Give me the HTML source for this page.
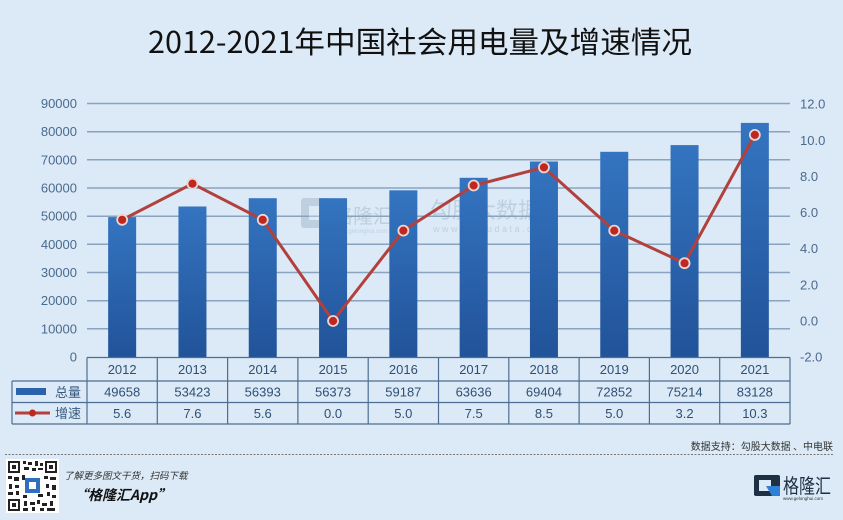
<!DOCTYPE html>
<html><head><meta charset="utf-8">
<style>
html,body{margin:0;padding:0;background:#dbeaf6;}
svg{display:block;}
</style></head>
<body>
<svg width="843" height="520" viewBox="0 0 843 520" xmlns="http://www.w3.org/2000/svg" font-family="'Liberation Sans','Noto Sans CJK SC',sans-serif">
<defs>
<linearGradient id="bar" x1="0" y1="0" x2="0" y2="1">
<stop offset="0" stop-color="#3474c0"/>
<stop offset="1" stop-color="#215399"/>
</linearGradient>
</defs>
<rect width="843" height="520" fill="#dbeaf6"/>
<!-- Title -->
<text x="148" y="53" font-family="'Noto Sans CJK SC',sans-serif" font-size="30" fill="#111" textLength="544" lengthAdjust="spacingAndGlyphs">2012-2021年中国社会用电量及增速情况</text>

<!-- gridlines -->
<g stroke="#8aa3bf" stroke-width="1.5">
<line x1="87" x2="790" y1="328.8" y2="328.8"/>
<line x1="87" x2="790" y1="300.7" y2="300.7"/>
<line x1="87" x2="790" y1="272.5" y2="272.5"/>
<line x1="87" x2="790" y1="244.3" y2="244.3"/>
<line x1="87" x2="790" y1="216.2" y2="216.2"/>
<line x1="87" x2="790" y1="188" y2="188"/>
<line x1="87" x2="790" y1="159.8" y2="159.8"/>
<line x1="87" x2="790" y1="131.7" y2="131.7"/>
<line x1="87" x2="790" y1="103.5" y2="103.5"/>
</g>

<!-- left axis labels -->
<g font-size="13" fill="#4a6a8e" text-anchor="end">
<text x="77" y="361.5">0</text>
<text x="77" y="333.3">10000</text>
<text x="77" y="305.2">20000</text>
<text x="77" y="277">30000</text>
<text x="77" y="248.8">40000</text>
<text x="77" y="220.7">50000</text>
<text x="77" y="192.5">60000</text>
<text x="77" y="164.3">70000</text>
<text x="77" y="136.2">80000</text>
<text x="77" y="108">90000</text>
</g>
<!-- right axis labels -->
<g font-size="13" fill="#4a6a8e">
<text x="800" y="361.5">-2.0</text>
<text x="800" y="325.4">0.0</text>
<text x="800" y="289.3">2.0</text>
<text x="800" y="253.2">4.0</text>
<text x="800" y="217">6.0</text>
<text x="800" y="180.9">8.0</text>
<text x="800" y="144.8">10.0</text>
<text x="800" y="108.6">12.0</text>
</g>

<!-- watermark -->
<g opacity="0.35">
<rect x="301" y="198" width="30" height="30" rx="3" fill="#8aa0b8"/>
<rect x="309" y="206" width="14" height="14" fill="#dbeaf6"/>
<text x="333" y="223" font-family="'Noto Sans CJK SC',sans-serif" font-size="20" fill="#8aa0b8">格隆汇</text>
<text x="334" y="233" font-size="6" fill="#8aa0b8">www.gelonghui.com</text>
<text x="430" y="218" font-family="'Noto Sans CJK SC',sans-serif" font-size="22" fill="#8aa0b8">勾股大数据</text>
<text x="433" y="232" font-size="9" fill="#8aa0b8" letter-spacing="2.5">www.gogudata.com</text>
</g>

<!-- bars -->
<g fill="url(#bar)">
<rect x="108.15" y="217.1" width="28" height="139.9"/>
<rect x="178.45" y="206.5" width="28" height="150.5"/>
<rect x="248.75" y="198.2" width="28" height="158.8"/>
<rect x="319.05" y="198.2" width="28" height="158.8"/>
<rect x="389.35" y="190.3" width="28" height="166.7"/>
<rect x="459.65" y="177.8" width="28" height="179.2"/>
<rect x="529.95" y="161.5" width="28" height="195.5"/>
<rect x="600.25" y="151.8" width="28" height="205.2"/>
<rect x="670.55" y="145.1" width="28" height="211.9"/>
<rect x="740.85" y="122.9" width="28" height="234.1"/>
</g>

<!-- line -->
<polyline fill="none" stroke="#b2403c" stroke-width="3" stroke-linejoin="round"
points="122.15,219.8 192.45,183.7 262.75,219.8 333.05,321 403.35,230.6 473.65,185.5 543.95,167.4 614.25,230.6 684.55,263.2 754.85,134.9"/>
<g fill="#c0281f" stroke="#ecd6d4" stroke-width="1.8">
<circle cx="122.15" cy="219.8" r="5"/>
<circle cx="192.45" cy="183.7" r="5"/>
<circle cx="262.75" cy="219.8" r="5"/>
<circle cx="333.05" cy="321" r="5"/>
<circle cx="403.35" cy="230.6" r="5"/>
<circle cx="473.65" cy="185.5" r="5"/>
<circle cx="543.95" cy="167.4" r="5"/>
<circle cx="614.25" cy="230.6" r="5"/>
<circle cx="684.55" cy="263.2" r="5"/>
<circle cx="754.85" cy="134.9" r="5"/>
</g>

<!-- table -->
<g stroke="#4d6d92" stroke-width="1.2" fill="none">
<line x1="87" y1="357.5" x2="790" y2="357.5"/>
<line x1="12" y1="381" x2="790" y2="381"/>
<line x1="12" y1="402.5" x2="790" y2="402.5"/>
<line x1="12" y1="424" x2="790" y2="424"/>
<line x1="12" y1="381" x2="12" y2="424"/>
<line x1="87" y1="357.5" x2="87" y2="424"/>
<line x1="157.3" y1="357.5" x2="157.3" y2="424"/>
<line x1="227.6" y1="357.5" x2="227.6" y2="424"/>
<line x1="297.9" y1="357.5" x2="297.9" y2="424"/>
<line x1="368.2" y1="357.5" x2="368.2" y2="424"/>
<line x1="438.5" y1="357.5" x2="438.5" y2="424"/>
<line x1="508.8" y1="357.5" x2="508.8" y2="424"/>
<line x1="579.1" y1="357.5" x2="579.1" y2="424"/>
<line x1="649.4" y1="357.5" x2="649.4" y2="424"/>
<line x1="719.7" y1="357.5" x2="719.7" y2="424"/>
<line x1="790" y1="357.5" x2="790" y2="424"/>
</g>
<!-- legend cells -->
<rect x="16" y="388" width="30" height="7" fill="#2a62ad"/>
<text x="55" y="397" font-family="'Noto Sans CJK SC',sans-serif" font-size="13" fill="#3a5a80">总量</text>
<line x1="15" y1="413" x2="50" y2="413" stroke="#b2403c" stroke-width="3"/>
<circle cx="32.5" cy="413" r="3.5" fill="#c0281f"/>
<text x="55" y="418" font-family="'Noto Sans CJK SC',sans-serif" font-size="13" fill="#3a5a80">增速</text>

<g font-size="13" fill="#2f4f75" text-anchor="middle">
<text x="122.15" y="374">2012</text><text x="192.45" y="374">2013</text><text x="262.75" y="374">2014</text><text x="333.05" y="374">2015</text><text x="403.35" y="374">2016</text><text x="473.65" y="374">2017</text><text x="543.95" y="374">2018</text><text x="614.25" y="374">2019</text><text x="684.55" y="374">2020</text><text x="754.85" y="374">2021</text>
<text x="122.15" y="396.5">49658</text><text x="192.45" y="396.5">53423</text><text x="262.75" y="396.5">56393</text><text x="333.05" y="396.5">56373</text><text x="403.35" y="396.5">59187</text><text x="473.65" y="396.5">63636</text><text x="543.95" y="396.5">69404</text><text x="614.25" y="396.5">72852</text><text x="684.55" y="396.5">75214</text><text x="754.85" y="396.5">83128</text>
<text x="122.15" y="418">5.6</text><text x="192.45" y="418">7.6</text><text x="262.75" y="418">5.6</text><text x="333.05" y="418">0.0</text><text x="403.35" y="418">5.0</text><text x="473.65" y="418">7.5</text><text x="543.95" y="418">8.5</text><text x="614.25" y="418">5.0</text><text x="684.55" y="418">3.2</text><text x="754.85" y="418">10.3</text>
</g>

<!-- source -->
<text x="833" y="450" text-anchor="end" font-family="'Noto Sans CJK SC',sans-serif" font-size="10" fill="#333">数据支持：勾股大数据 、中电联</text>
<line x1="5" y1="454.5" x2="833" y2="454.5" stroke="#777" stroke-width="1" stroke-dasharray="2,1.5"/>

<!-- QR -->
<rect x="6" y="459" width="53" height="54" fill="#fff"/>
<g fill="#222">
<rect x="8" y="461" width="12" height="12"/><rect x="10" y="463" width="8" height="8" fill="#fff"/><rect x="12" y="465" width="4" height="4"/>
<rect x="45" y="461" width="12" height="12"/><rect x="47" y="463" width="8" height="8" fill="#fff"/><rect x="49" y="465" width="4" height="4"/>
<rect x="8" y="499" width="12" height="12"/><rect x="10" y="501" width="8" height="8" fill="#fff"/><rect x="12" y="503" width="4" height="4"/>
<rect x="23" y="461" width="3" height="3"/><rect x="28" y="462" width="4" height="3"/><rect x="35" y="461" width="3" height="5"/><rect x="40" y="463" width="3" height="3"/>
<rect x="24" y="467" width="5" height="3"/><rect x="32" y="468" width="4" height="3"/><rect x="38" y="468" width="5" height="2"/>
<rect x="8" y="476" width="4" height="3"/><rect x="14" y="477" width="5" height="4"/><rect x="22" y="475" width="3" height="5"/><rect x="44" y="476" width="4" height="3"/><rect x="50" y="477" width="6" height="3"/>
<rect x="9" y="484" width="3" height="5"/><rect x="15" y="485" width="4" height="3"/><rect x="46" y="484" width="3" height="4"/><rect x="52" y="485" width="4" height="5"/>
<rect x="8" y="492" width="5" height="3"/><rect x="16" y="491" width="3" height="4"/><rect x="23" y="495" width="4" height="3"/><rect x="38" y="494" width="5" height="3"/><rect x="47" y="492" width="3" height="4"/><rect x="52" y="495" width="4" height="3"/>
<rect x="24" y="501" width="3" height="5"/><rect x="30" y="502" width="5" height="3"/><rect x="37" y="500" width="3" height="4"/><rect x="42" y="503" width="5" height="3"/><rect x="50" y="501" width="3" height="5"/>
<rect x="23" y="508" width="5" height="3"/><rect x="32" y="507" width="3" height="4"/><rect x="40" y="508" width="4" height="3"/><rect x="47" y="508" width="8" height="3"/>
</g>
<rect x="25" y="478" width="15" height="15" fill="#2f6fc0"/>
<rect x="29" y="482" width="7" height="7" fill="#fff"/>

<text x="64" y="479" font-family="'Noto Sans CJK SC',sans-serif" font-size="9.5" font-style="italic" fill="#333">了解更多图文干货，扫码下载</text>
<text x="74" y="500" font-family="'Noto Sans CJK SC',sans-serif" font-size="14" font-weight="bold" font-style="italic" fill="#111">“格隆汇App”</text>

<!-- logo -->
<rect x="754" y="475" width="26" height="21" rx="2" fill="#1f2f44"/>
<rect x="759" y="480" width="12" height="11" fill="#dbeaf6"/>
<polygon points="766,486 780,486 780,496 772,496" fill="#2f7fd6"/>
<text x="783" y="493" font-family="'Noto Sans CJK SC',sans-serif" font-size="20" fill="#1f2f44" textLength="48" lengthAdjust="spacingAndGlyphs">格隆汇</text>
<text x="783" y="500" font-size="4.5" fill="#333">www.gelonghui.com</text>
</svg>
</body></html>
